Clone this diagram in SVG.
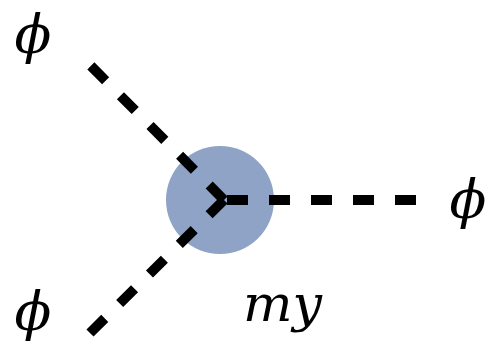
<svg xmlns="http://www.w3.org/2000/svg" width="487" height="343" viewBox="0 0 487 343">
<style>
.lbl{font-style:italic;fill:#000;font-family:"DejaVu Serif",serif}
.phi{font-size:54px}
.my{font-size:50px}
.prop{stroke:#000;stroke-width:10;stroke-dasharray:21 21;fill:none}
</style>
<rect width="487" height="343" fill="#fff"/>
<g id="vertex"><circle cx="220" cy="200" r="54" fill="#8ea3c6"/></g>
<g id="connectors">
<line class="prop" x1="224" y1="200" x2="89" y2="64"/>
<line class="prop" x1="224" y1="200" x2="90" y2="333"/>
<line class="prop" x1="227" y1="200" x2="420" y2="200"/>
</g>
<g id="phi1"><text class="lbl phi" x="33" y="53" text-anchor="middle">ϕ</text></g>
<g id="phi2"><text class="lbl phi" x="468" y="218" text-anchor="middle">ϕ</text></g>
<g id="phi3"><text class="lbl phi" x="33" y="330" text-anchor="middle">ϕ</text></g>
<g id="label"><text class="lbl my" x="243" y="321" textLength="79" lengthAdjust="spacingAndGlyphs">my</text></g>
</svg>
